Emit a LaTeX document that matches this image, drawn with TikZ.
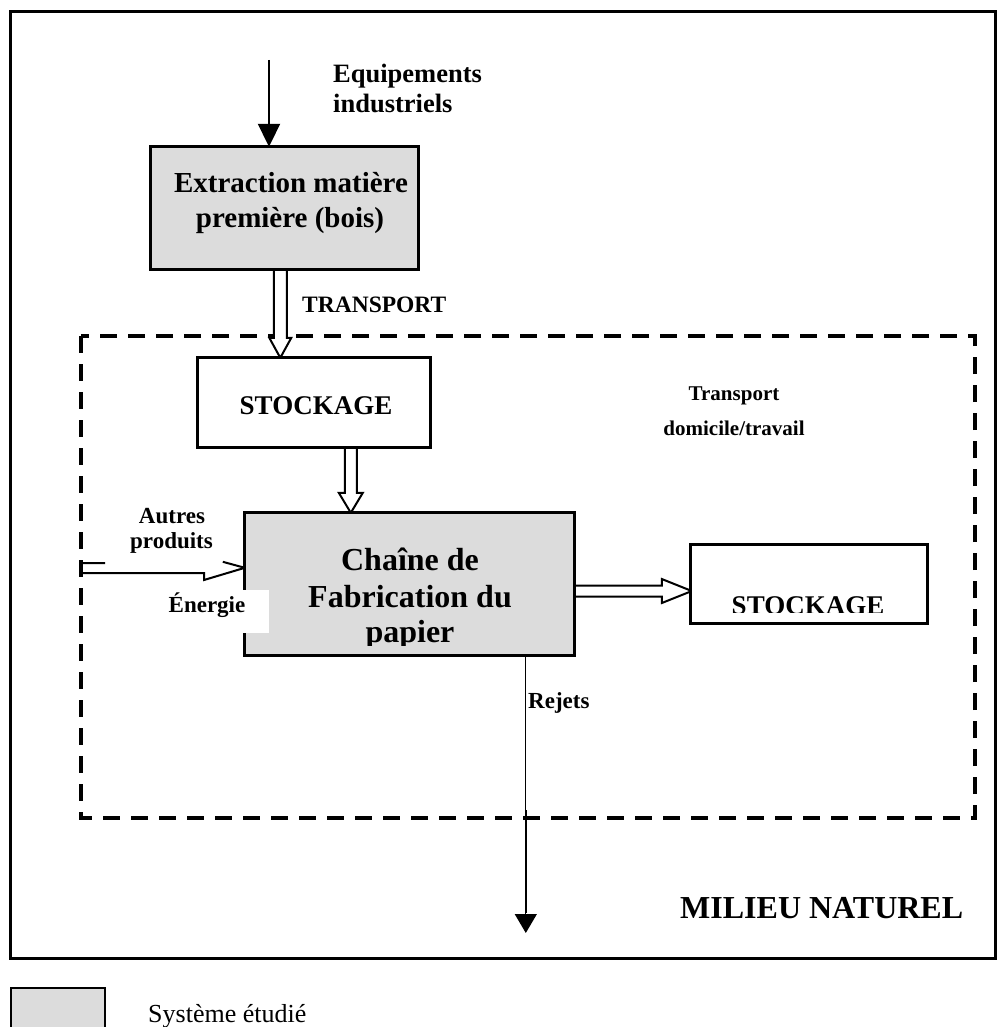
\documentclass[tikz,border=0pt]{standalone}
\usepackage{fontspec}
\setmainfont{Liberation Serif}
\usetikzlibrary{calc,arrows.meta}
\definecolor{sysgray}{HTML}{DCDCDC}
\newcommand\myfs[1]{\fontsize{#1}{#1}\selectfont}
\tikzset{
  box/.style={draw, line width=3pt, inner sep=0pt, fill=white},
  sysbox/.style={box, fill=sysgray},
  dblarr/.style={draw, line width=2pt, fill=white, line join=miter},
  lbl/.style={anchor=base, inner sep=0pt, font=\bfseries\myfs{#1}},
  lbll/.style={anchor=base west, inner sep=0pt, font=\bfseries\myfs{#1}},
  thinarr/.style={line width=2pt, -{Triangle[length=23pt,width=22pt]}},
}
\begin{document}
\begin{tikzpicture}[x=1pt,y=-1pt]
\useasboundingbox (0,0) rectangle (1006,1027);
% outer frame
\draw[line width=3pt] (10,12) rectangle (995,958);
% studied system boundary
\draw[line width=3.5pt, dash pattern=on 17pt off 11pt] (81,336) rectangle (975,818);

% box positions (empty nodes)
\path
  (284.5,208) node[minimum width=267pt, minimum height=122pt, inner sep=0pt] (ext) {}
  (314,402.5) node[minimum width=232pt, minimum height=89pt, inner sep=0pt] (stk1) {}
  (409.5,584) node[minimum width=329pt, minimum height=142pt, inner sep=0pt] (chaine) {}
  (809,584)   node[minimum width=236pt, minimum height=78pt, inner sep=0pt] (stk2) {};

% arrows (drawn before boxes)
\coordinate (t1tip) at ($(stk1.north west)+(82.5,0)$);
\draw[dblarr] let \p1=(t1tip), \p2=(ext.south) in
  (\x1-6.5pt,\y2) -- (\x1-6.5pt,\y1+20pt) -- (\x1-11pt,\y1+20pt) -- (\x1,\y1)
  -- (\x1+11pt,\y1+20pt) -- (\x1+6.5pt,\y1+20pt) -- (\x1+6.5pt,\y2);

\coordinate (t2tip) at ($(chaine.north west)+(106,0)$);
\draw[dblarr] let \p1=(t2tip), \p2=(stk1.south) in
  (\x1-6pt,\y2) -- (\x1-6pt,\y1+20pt) -- (\x1-12pt,\y1+20pt) -- (\x1,\y1)
  -- (\x1+12pt,\y1+20pt) -- (\x1+6pt,\y1+20pt) -- (\x1+6pt,\y2);

\coordinate (t3tip) at ($(stk2.west)+(1,7)$);
\draw[dblarr] let \p1=(t3tip), \p2=(chaine.east) in
  (\x2,\y1+5.5pt) -- (\x1-30pt,\y1+5.5pt) -- (\x1-30pt,\y1+12pt) -- (\x1,\y1)
  -- (\x1-30pt,\y1-12pt) -- (\x1-30pt,\y1-5.5pt) -- (\x2,\y1-5.5pt);

% incoming arrow (Autres produits / Energie)
\coordinate (ltip) at ($(chaine.north west)+(0,55)$);
\coordinate (lstart) at (81,563);
\draw[line width=2pt, line join=miter]
  ($(lstart)+(24,0)$) -- (lstart) -- ($(lstart)+(0,10)$) -- ($(lstart)+(123,10)$)
  -- ($(lstart)+(123,17)$) -- (ltip);
\draw[line width=2pt] ($(ltip)+(-22,-6)$) -- (ltip);

% top arrow
\coordinate (eqtop) at (269,60);
\draw[thinarr] (eqtop) -- (eqtop |- ext.north);

% rejets
\coordinate (rej) at ($(chaine.south west)+(281,0)$);
\coordinate (rejend) at (rej |- 0,933);
\draw[line width=1.3pt, -{Triangle[length=19pt,width=22pt]}] (rej) -- (rejend);
\draw[line width=2.5pt] ($(rejend)+(0,-123)$) -- ($(rejend)+(0,-20)$);

% boxes
\draw[sysbox] (ext.north west) rectangle (ext.south east);
\draw[box] (stk1.north west) rectangle (stk1.south east);
\draw[sysbox] (chaine.north west) rectangle (chaine.south east);
\draw[box] (stk2.north west) rectangle (stk2.south east);

% white patch behind Energie
\fill[white] (150,590) rectangle (269,633);

% texts
\node[lbll=26.5] (eq1) at (333,83) {Equipements};
\node[lbll=26.5] (eq2) at (333,113) {industriels};
\node[lbll=23.5] (tr) at (302,312) {TRANSPORT};
\node[lbl=29] (ext1) at (291,193) {Extraction matière};
\node[lbl=29] (ext2) at (290,227) {première (bois)};
\node[lbl=27] (stk1t) at (316,414) {STOCKAGE};
\node[lbl=21] (td1) at (734,400) {Transport};
\node[lbl=21] (td2) at (734,435) {domicile/travail};
\node[lbl=23] (ap1) at (172,523) {Autres};
\node[lbl=23] (ap2) at (171.5,548) {produits};
\node[lbl=23] (en) at (207,612) {Énergie};
\begin{scope}
  \clip (chaine.north west) rectangle ($(chaine.south east)+(0,-10)$);
  \node[lbl=32] (ch1) at (410,570) {Chaîne de};
  \node[lbl=32] (ch2) at (410,607) {Fabrication du};
  \node[lbl=32] (ch3) at (410,642) {papier};
\end{scope}
\begin{scope}
  \clip (stk2.north west) rectangle ($(stk2.south east)+(0,-11)$);
  \node[lbl=27] (stk2t) at (808,614) {STOCKAGE};
\end{scope}
\node[lbll=23] (rj) at (528,708) {Rejets};
\node[lbll=32] (mn) at (680,918) {MILIEU NATUREL};

% legend
\node[draw, line width=2.5pt, fill=sysgray, minimum width=94pt, minimum height=42pt, inner sep=0pt] (leg) at (58,1009) {};
\node[anchor=base west, inner sep=0pt, font=\myfs{26}] (legt) at (148,1022) {Système étudié};
\end{tikzpicture}
\end{document}
